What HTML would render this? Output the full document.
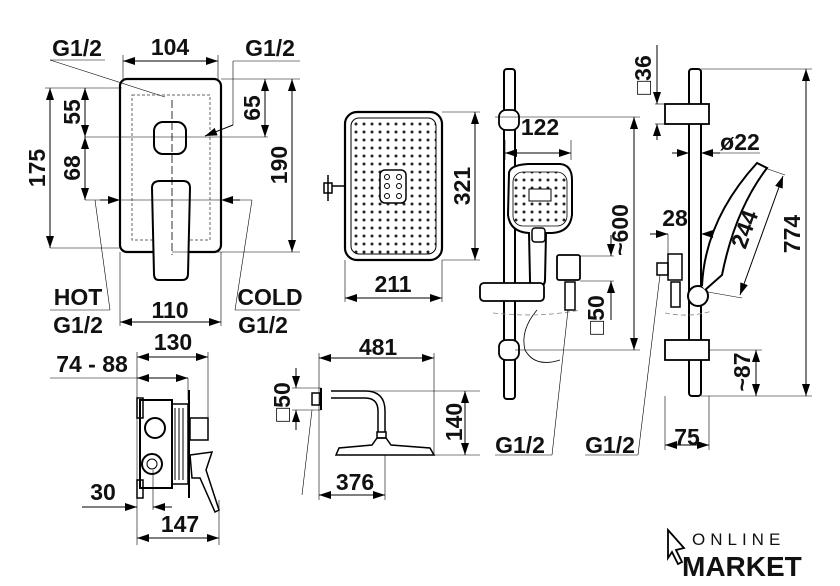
<!DOCTYPE html>
<html><head><meta charset="utf-8"><style>
html,body{margin:0;padding:0;background:#fff;width:840px;height:586px;overflow:hidden}
text{font-family:"Liberation Sans",Arial,sans-serif;font-weight:bold;fill:#111}
</style></head><body>
<svg width="840" height="586" viewBox="0 0 840 586" xmlns="http://www.w3.org/2000/svg">
<defs>
<marker id="a" markerWidth="12" markerHeight="8" refX="12" refY="4" orient="auto-start-reverse" markerUnits="userSpaceOnUse"><path d="M0,0 L12,4 L0,8z" fill="#000"/></marker>
<pattern id="dots" width="8" height="8" patternUnits="userSpaceOnUse"><circle cx="4" cy="4" r="1.5" fill="#222"/></pattern>
</defs>
<g stroke="#000" fill="none" stroke-width="1">
<rect x="120" y="79" width="101" height="173" rx="7" stroke-width="2.2"/>
<rect x="132" y="95" width="78" height="145" stroke-dasharray="3,2" stroke="#666"/>
<rect x="154" y="122" width="32" height="32" rx="9" stroke-width="2" fill="#fff"/>
<path d="M152,188 Q152,181 160,181 L183,181 Q190,181 190,188 L188,274 Q188,280 182,280 L159,280 Q154,280 154,274Z" stroke-width="2" fill="#fff"/>
<line x1="172" y1="100" x2="172" y2="255" stroke-dasharray="8,3" stroke-width="0.8"/>
<line x1="123" y1="61" x2="218" y2="61" marker-start="url(#a)" marker-end="url(#a)"/>
<line x1="123" y1="55" x2="123" y2="79" stroke-width=".6"/><line x1="218" y1="55" x2="218" y2="79" stroke-width=".6"/>
<line x1="50" y1="60" x2="165" y2="97" stroke-width=".6"/><line x1="50" y1="60" x2="105" y2="60" stroke-width=".6"/>
<line x1="233" y1="61" x2="300" y2="61" stroke-width=".6"/><line x1="233" y1="61" x2="233" y2="125" stroke-width=".6"/>
<line x1="205" y1="136" x2="233" y2="125" marker-start="url(#a)"/>
<line x1="221" y1="79" x2="300" y2="79" stroke-width=".6"/>
<line x1="292" y1="79" x2="292" y2="252" marker-start="url(#a)" marker-end="url(#a)"/>
<line x1="172" y1="252" x2="300" y2="252" stroke-width=".6"/>
<line x1="265" y1="79" x2="265" y2="137" marker-start="url(#a)" marker-end="url(#a)"/>
<line x1="85" y1="137" x2="268" y2="137" stroke-width=".6"/>
<line x1="45" y1="88" x2="122" y2="88" stroke-width=".6"/>
<line x1="50" y1="88" x2="50" y2="248" marker-start="url(#a)" marker-end="url(#a)"/>
<line x1="50" y1="248" x2="120" y2="248" stroke-width=".6"/>
<line x1="85" y1="88" x2="85" y2="137" marker-start="url(#a)" marker-end="url(#a)"/>
<line x1="85" y1="137" x2="85" y2="200" marker-start="url(#a)" marker-end="url(#a)"/>
<line x1="85" y1="200" x2="252" y2="200" stroke-width=".6"/>
<line x1="100" y1="200" x2="120" y2="200" marker-end="url(#a)"/>
<line x1="240" y1="200" x2="221" y2="200" marker-end="url(#a)"/>
<line x1="95" y1="200" x2="110" y2="310" stroke-width=".6"/><line x1="252" y1="200" x2="235" y2="310" stroke-width=".6"/>
<line x1="50" y1="310" x2="110" y2="310" stroke-width=".6"/><line x1="235" y1="310" x2="300" y2="310" stroke-width=".6"/>
<line x1="120" y1="252" x2="120" y2="326" stroke-width=".6"/><line x1="221" y1="252" x2="221" y2="326" stroke-width=".6"/>
<line x1="120" y1="322" x2="221" y2="322" marker-start="url(#a)" marker-end="url(#a)"/>
<rect x="140" y="400" width="32" height="88" stroke-width="2"/>
<rect x="172" y="404" width="16" height="80" stroke-width="1.5"/>
<line x1="175" y1="408" x2="175" y2="480"/><line x1="179" y1="408" x2="179" y2="480"/><line x1="183" y1="408" x2="183" y2="480"/>
<line x1="189" y1="390" x2="189" y2="498" stroke-width="2"/>
<rect x="190" y="418" width="18" height="22" stroke-width="1.5"/>
<circle cx="155" cy="428" r="10" stroke-width="2"/><circle cx="152" cy="464" r="10" stroke-width="2"/><circle cx="152" cy="464" r="5"/>
<rect x="137" y="398" width="6" height="20" stroke-width="1.5"/><rect x="137" y="480" width="6" height="18" stroke-width="1.5"/>
<path d="M190,455 L212,452 L206,470 L219,510 L215,512 L200,478 L192,478Z" stroke-width="1.5"/>
<line x1="137" y1="352" x2="137" y2="545" stroke-width=".6"/><line x1="208" y1="352" x2="208" y2="420" stroke-width=".6"/>
<line x1="137" y1="357" x2="208" y2="357" marker-start="url(#a)" marker-end="url(#a)"/>
<line x1="50" y1="378" x2="188" y2="378" stroke-width=".6"/>
<line x1="137" y1="378" x2="188" y2="378" marker-start="url(#a)" marker-end="url(#a)"/>
<line x1="188" y1="378" x2="188" y2="400" stroke-width=".6"/>
<line x1="82" y1="507" x2="137" y2="507" marker-end="url(#a)"/>
<line x1="172" y1="507" x2="153" y2="507" marker-end="url(#a)"/><line x1="153" y1="470" x2="153" y2="510" stroke-width=".6"/>
<line x1="219" y1="500" x2="219" y2="545" stroke-width=".6"/>
<line x1="137" y1="538" x2="219" y2="538" marker-start="url(#a)" marker-end="url(#a)"/>
<rect x="345" y="112" width="97" height="148" rx="12" stroke-width="2.2"/>
<rect x="351" y="118" width="85" height="136" rx="8" fill="url(#dots)"/>
<rect x="380" y="170" width="26" height="33" rx="5" fill="#fff" stroke-width="1.5"/>
<circle cx="387" cy="177" r="2.5"/><circle cx="399" cy="177" r="2.5"/><circle cx="387" cy="186" r="2.5"/><circle cx="399" cy="186" r="2.5"/><circle cx="387" cy="196" r="2.5"/><circle cx="399" cy="196" r="2.5"/>
<path d="M324,183 h8 v10 h-8z M328,175 v26 M332,186 h13" stroke-width="1.5"/>
<line x1="442" y1="112" x2="480" y2="112" stroke-width=".6"/><line x1="442" y1="260" x2="480" y2="260" stroke-width=".6"/>
<line x1="475" y1="112" x2="475" y2="260" marker-start="url(#a)" marker-end="url(#a)"/>
<line x1="345" y1="260" x2="345" y2="302" stroke-width=".6"/><line x1="442" y1="260" x2="442" y2="302" stroke-width=".6"/>
<line x1="345" y1="298" x2="442" y2="298" marker-start="url(#a)" marker-end="url(#a)"/>
<rect x="312" y="393" width="8" height="12" stroke-width="1.5"/>
<line x1="321" y1="388" x2="321" y2="410" stroke-width="2"/>
<path d="M331,391 L365,391 Q385,391 385,411 L385,432 M331,398 L365,398 Q378,398 378,411 L378,432" stroke-width="1.5"/>
<rect x="377" y="432" width="9" height="6" stroke-width="1.5"/>
<path d="M336,455 L339,448 L372,445 L377,438 L386,438 L391,445 L430,448 L434,455Z" stroke-width="1.5"/>
<line x1="292" y1="388" x2="321" y2="388" stroke-width=".6"/><line x1="292" y1="410" x2="321" y2="410" stroke-width=".6"/>
<line x1="296" y1="368" x2="296" y2="388" marker-end="url(#a)"/><line x1="296" y1="430" x2="296" y2="410" marker-end="url(#a)"/>
<line x1="312" y1="410" x2="302" y2="495" stroke-width=".6"/>
<line x1="319" y1="353" x2="319" y2="500" stroke-width=".6"/><line x1="434" y1="353" x2="434" y2="455" stroke-width=".6"/>
<line x1="319" y1="358" x2="434" y2="358" marker-start="url(#a)" marker-end="url(#a)"/>
<line x1="331" y1="391" x2="480" y2="391" stroke-width=".6"/><line x1="434" y1="455" x2="480" y2="455" stroke-width=".6"/>
<line x1="465" y1="391" x2="465" y2="455" marker-start="url(#a)" marker-end="url(#a)"/>
<line x1="385" y1="455" x2="385" y2="500" stroke-width=".6"/>
<line x1="319" y1="495" x2="385" y2="495" marker-start="url(#a)" marker-end="url(#a)"/>
<rect x="504" y="69" width="11" height="330" rx="3" stroke-width="2"/>
<rect x="499" y="110" width="20" height="20" rx="7" stroke-width="1.8" fill="#fff"/>
<rect x="499" y="340" width="20" height="20" rx="7" stroke-width="1.8" fill="#fff"/>
<path d="M509,173 Q510,165 528,164 L560,164 Q572,165 572,180 L572,215 Q570,232 552,233 L546,233 L545,280 Q545,286 539,286 L533,286 Q530,286 530,280 L529,233 Q510,232 508,215Z" stroke-width="2" fill="#fff"/>
<rect x="513" y="172" width="54" height="54" rx="10" fill="url(#dots)" stroke-width=".8"/>
<rect x="529" y="189" width="22" height="12" fill="#fff" stroke-width="1"/>
<rect x="532" y="228" width="13" height="14" rx="3" stroke-width="1.5" fill="#fff"/>
<rect x="480" y="283" width="64" height="18" rx="4" stroke-width="1.8" fill="#fff"/>
<rect x="557" y="255" width="23" height="25" rx="2" stroke-width="1.8"/>
<rect x="565" y="282" width="10" height="28" stroke-width="1.5"/>
<path d="M537,310 Q520,330 525,350 Q535,368 560,360" stroke-width=".8"/>
<path d="M493,313 Q540,318 580,310" stroke="#888" stroke-width=".8" stroke-dasharray="5,3"/>
<line x1="495" y1="117" x2="640" y2="117" stroke-width=".6"/><line x1="515" y1="350" x2="640" y2="350" stroke-width=".6"/>
<line x1="634" y1="117" x2="634" y2="350" marker-start="url(#a)" marker-end="url(#a)"/>
<line x1="505" y1="140" x2="505" y2="160" stroke-width=".6"/><line x1="571" y1="140" x2="571" y2="160" stroke-width=".6"/>
<line x1="505" y1="153" x2="571" y2="153" marker-start="url(#a)" marker-end="url(#a)"/>
<line x1="580" y1="256" x2="614" y2="256" stroke-width=".6"/><line x1="580" y1="281" x2="614" y2="281" stroke-width=".6"/>
<line x1="611" y1="235" x2="611" y2="256" marker-end="url(#a)"/><line x1="611" y1="320" x2="611" y2="281" marker-end="url(#a)"/>
<line x1="568" y1="310" x2="552" y2="455" stroke-width=".6"/><line x1="495" y1="455" x2="552" y2="455" stroke-width=".6"/>
<rect x="689" y="69" width="12" height="327" rx="3" stroke-width="2"/>
<rect x="665" y="104" width="44" height="20" stroke-width="1.8" fill="#fff"/>
<rect x="665" y="340" width="44" height="20" stroke-width="1.8" fill="#fff"/>
<circle cx="698" cy="296" r="10" stroke-width="2" fill="#fff"/>
<path d="M702,286 Q705,220 757,163 L767,168 Q735,210 722,275 L705,290" stroke-width="2" fill="#fff"/>
<rect x="668" y="254" width="14" height="26" stroke-width="1.5"/><rect x="657" y="263" width="11" height="12" stroke-width="1.5"/>
<rect x="671" y="282" width="9" height="25" stroke-width="1.5"/>
<path d="M665,313 Q690,318 712,311" stroke="#888" stroke-width=".8" stroke-dasharray="5,3"/>
<line x1="701" y1="69" x2="812" y2="69" stroke-width=".6"/><line x1="701" y1="396" x2="812" y2="396" stroke-width=".6"/>
<line x1="806" y1="69" x2="806" y2="396" marker-start="url(#a)" marker-end="url(#a)"/>
<line x1="655" y1="104" x2="665" y2="104" stroke-width=".6"/><line x1="655" y1="124" x2="665" y2="124" stroke-width=".6"/>
<line x1="657" y1="45" x2="657" y2="104" marker-end="url(#a)"/><line x1="657" y1="140" x2="657" y2="124" marker-end="url(#a)"/>
<line x1="672" y1="153" x2="689" y2="153" marker-end="url(#a)"/><line x1="720" y1="153" x2="701" y2="153" marker-end="url(#a)"/>
<line x1="701" y1="153" x2="760" y2="153" stroke-width=".6"/>
<line x1="650" y1="234" x2="668" y2="234" marker-end="url(#a)"/><line x1="705" y1="234" x2="701" y2="234" marker-end="url(#a)"/>
<line x1="668" y1="234" x2="668" y2="254" stroke-width=".6"/>
<line x1="740" y1="295" x2="783" y2="176" marker-start="url(#a)" marker-end="url(#a)"/>
<line x1="765" y1="168" x2="785" y2="175" stroke-width=".6"/><line x1="708" y1="292" x2="742" y2="298" stroke-width=".6"/>
<line x1="709" y1="350" x2="762" y2="350" stroke-width=".6"/>
<line x1="756" y1="350" x2="756" y2="396" marker-start="url(#a)" marker-end="url(#a)"/>
<line x1="665" y1="396" x2="665" y2="450" stroke-width=".6"/><line x1="709" y1="396" x2="709" y2="450" stroke-width=".6"/>
<line x1="665" y1="445" x2="709" y2="445" marker-start="url(#a)" marker-end="url(#a)"/>
<line x1="660" y1="275" x2="638" y2="455" stroke-width=".6"/><line x1="585" y1="455" x2="638" y2="455" stroke-width=".6"/>
</g>
<g font-size="23">
<text x="170" y="55" text-anchor="middle">104</text>
<text x="77" y="56" text-anchor="middle">G1/2</text>
<text x="270" y="56" text-anchor="middle">G1/2</text>
<text x="170" y="318" text-anchor="middle">110</text>
<text x="78" y="305" text-anchor="middle">HOT</text>
<text x="78" y="333" text-anchor="middle">G1/2</text>
<text x="270" y="305" text-anchor="middle">COLD</text>
<text x="263" y="333" text-anchor="middle">G1/2</text>
<text transform="translate(45,168) rotate(-90)" text-anchor="middle">175</text>
<text transform="translate(80,112) rotate(-90)" text-anchor="middle">55</text>
<text transform="translate(80,168) rotate(-90)" text-anchor="middle">68</text>
<text transform="translate(260,108) rotate(-90)" text-anchor="middle">65</text>
<text transform="translate(287,165) rotate(-90)" text-anchor="middle">190</text>
<text x="173" y="350" text-anchor="middle">130</text>
<text x="92" y="372" text-anchor="middle">74 - 88</text>
<text x="103" y="500" text-anchor="middle">30</text>
<text x="180" y="532" text-anchor="middle">147</text>
<text x="393" y="292" text-anchor="middle">211</text>
<text transform="translate(470,186) rotate(-90)" text-anchor="middle">321</text>
<text x="378" y="355" text-anchor="middle">481</text>
<text x="355" y="490" text-anchor="middle">376</text>
<text transform="translate(462,422) rotate(-90)" text-anchor="middle">140</text>
<text transform="translate(290,402) rotate(-90)" text-anchor="middle">□50</text>
<text x="540" y="135" text-anchor="middle">122</text>
<text transform="translate(628,230) rotate(-90)" text-anchor="middle">~600</text>
<text transform="translate(604,315) rotate(-90)" text-anchor="middle">□50</text>
<text x="520" y="453" text-anchor="middle">G1/2</text>
<text x="610" y="453" text-anchor="middle">G1/2</text>
<text transform="translate(651,75) rotate(-90)" text-anchor="middle">□36</text>
<text x="740" y="150" text-anchor="middle">ø22</text>
<text x="675" y="226" text-anchor="middle">28</text>
<text transform="translate(752,232) rotate(-70)" text-anchor="middle">244</text>
<text transform="translate(800,234) rotate(-90)" text-anchor="middle">774</text>
<text transform="translate(750,372) rotate(-90)" text-anchor="middle">~87</text>
<text x="687" y="445" text-anchor="middle">75</text>
</g>
<text x="692" y="545" font-size="17" letter-spacing="5" style="font-weight:normal">ONLINE</text>
<text x="682" y="576" font-size="28" font-weight="bold">MARKET</text>
<path d="M668,530 L684,548 L676,550 L682,562 L678,564 L672,552 L668,558Z" fill="#fff" stroke="#000" stroke-width="1.8"/>
</svg>
</body></html>
